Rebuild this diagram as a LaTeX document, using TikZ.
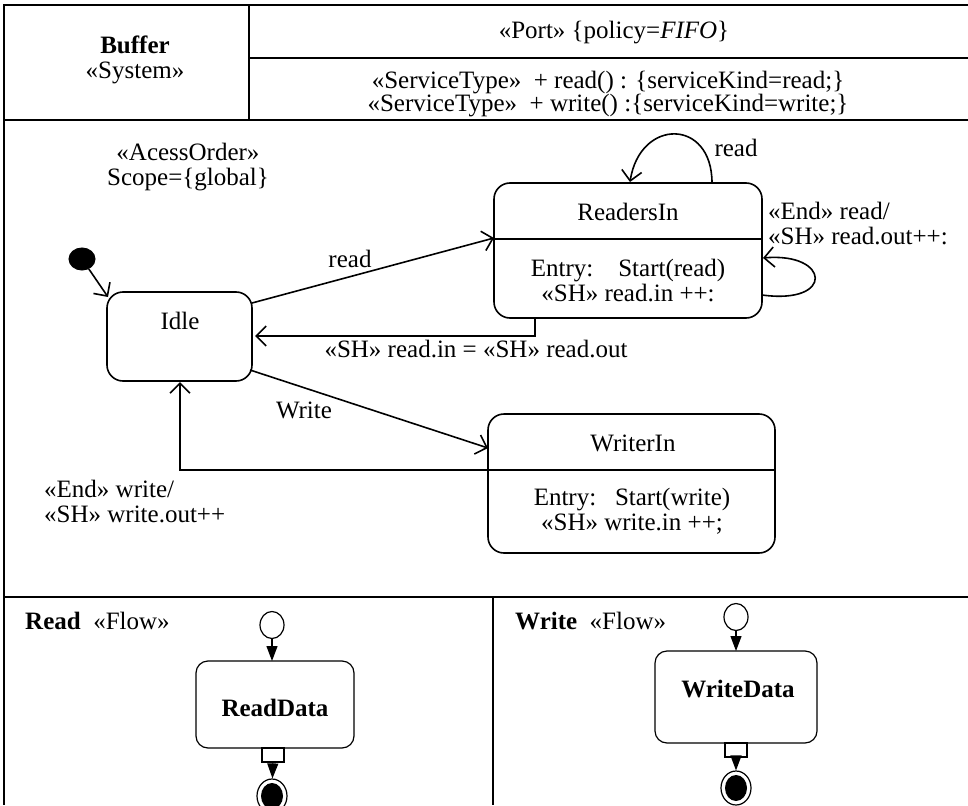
\documentclass[tikz,border=0pt]{standalone}
\usepackage{fontspec}
\setmainfont{Liberation Serif}
\usetikzlibrary{arrows.meta,shapes.geometric}
\begin{document}
\begin{tikzpicture}[x=1pt,y=-1pt,
  font=\fontsize{25}{25}\selectfont,
  frame/.style={line width=1.6pt},
  stbox/.style={draw,line width=1.6pt,rounded corners=16pt},
  actbox/.style={draw,line width=1.2pt,rounded corners=12pt},
  tr/.style={line width=1.6pt,-{Straight Barb[length=10pt,width=20pt,line width=1.6pt]}},
  fl/.style={line width=1.2pt,-{Triangle[length=15pt,width=11pt]}},
  lbl/.style={inner sep=0pt,align=center},
  lbll/.style={inner sep=0pt,align=left,anchor=west},
  opencirc/.style={draw,ellipse,minimum width=24pt,minimum height=27pt,inner sep=0pt,line width=1.2pt},
  finring/.style={draw,ellipse,minimum width=30pt,minimum height=34pt,inner sep=0pt,line width=1.2pt},
  findot/.style={fill=black,ellipse,minimum width=22pt,minimum height=26pt,inner sep=0pt},
  pinbox/.style={draw,line width=1.2pt,minimum width=22pt,minimum height=14pt,inner sep=0pt}]
\useasboundingbox (0,0) rectangle (968,805);
% frame
\draw[frame] (968,5) -- (4,5) -- (4,805);
\draw[frame] (4,120) -- (968,120);
\draw[frame] (249,5) -- (249,120);
\draw[frame] (249,58) -- (968,58);
\draw[frame] (4,597) -- (968,597);
\draw[line width=1.2pt] (493,597) -- (493,805);
% header texts
\node[lbl] (buf) at (135,60) {\textbf{Buffer}\\«System»};
\node[lbl] (port) at (614,33) {«Port» \{policy=\textit{FIFO}\}};
\node[lbl,font=\fontsize{25}{19}\selectfont] (svc) at (608,94) {«ServiceType»\ \ + read() : \{serviceKind=read;\}\\«ServiceType»\ \ + write() :\{serviceKind=write;\}};
% access order
\node[lbl] (acc) at (188,167) {«AcessOrder»\\Scope=\{global\}};
% initial
\node[draw,fill=black,ellipse,minimum width=26pt,minimum height=22pt,inner sep=0pt,line width=1pt] (init) at (82,259) {};
% Idle
\draw[stbox] (107,292) rectangle (252,381);
\node[lbl] (idlet) at (180,321) {Idle};
% ReadersIn
\draw[stbox] (494,183) rectangle (762,318);
\draw[frame] (494,239) -- (762,239);
\node[lbl] (rdt) at (628,212) {ReadersIn};
\node[lbl] (rde) at (628,281) {Entry:\ \ \ \ Start(read)\\«SH» read.in ++:};
% WriterIn
\draw[stbox] (488,414) rectangle (775,553);
\draw[frame] (488,470) -- (775,470);
\node[lbl] (wrt) at (633,443) {WriterIn};
\node[lbl] (wre) at (632,511) {Entry:\ \ \ Start(write)\\«SH» write.in ++;};
% named anchors
\coordinate (idleR1) at (252,303);
\coordinate (rdL) at (494,238);
\coordinate (rdB) at (535,318);
\coordinate (rdBc) at (535,336);
\coordinate (idleR2) at (255,336);
\coordinate (idleR3) at (250,370);
\coordinate (wrL) at (488,448);
\coordinate (wrL2) at (488,470);
\coordinate (wrC) at (180,470);
\coordinate (idleB) at (180,382);
\coordinate (idleTL) at (108,297);
\coordinate (rdT1) at (712,183);
\coordinate (rdT2) at (630,182);
\coordinate (rdR1) at (762,295);
\coordinate (rdR2) at (763,258);
% transitions
\draw[tr] (init) -- (idleTL);
\draw[tr] (idleR1) -- (rdL);
\node[lbl] (rl1) at (350,259) {read};
\draw[tr] (rdB) -- (rdBc) -- (idleR2);
\node[lbl] (rb) at (476,349) {«SH» read.in = «SH» read.out};
\draw[tr] (idleR3) -- (wrL);
\node[lbl] (wl) at (304,410) {Write};
\draw[tr] (wrL2) -- (wrC) -- (idleB);
\node[lbll] (we) at (44,501) {«End» write/\\«SH» write.out++};
\draw[tr] (rdT1) .. controls (712,118) and (640,118) .. (rdT2);
\node[lbl] (rl) at (736,148) {read};
\draw[tr] (rdR1) .. controls (835,305) and (830,252) .. (rdR2);
\node[lbll] (re) at (768,224) {«End» read/\\«SH» read.out++:};
% Read flow
\node[lbll] (rh) at (25,621) {\textbf{Read}\ \ «Flow»};
\node[opencirc] (rs) at (272,625) {};
\draw[actbox] (196,661) rectangle (354,748);
\node[lbl] (rdd) at (275,708) {\textbf{ReadData}};
\node[pinbox] (rpin) at (273,755) {};
\node[finring] (rf) at (272,796) {};
\node[findot] (rfi) at (272,796) {};
\coordinate (rddT) at (272,661);
\draw[fl] (rs) -- (rddT);
\draw[fl] (rpin) -- (rf);
% Write flow
\node[lbll] (wh) at (515,621) {\textbf{Write}\ \ «Flow»};
\node[opencirc] (ws) at (736,617) {};
\draw[actbox] (655,651) rectangle (817,743);
\node[lbl] (wdd) at (738,689) {\textbf{WriteData}};
\node[pinbox] (wpin) at (736,750) {};
\node[finring] (wf) at (736,788) {};
\node[findot] (wfi) at (736,788) {};
\coordinate (wddT) at (736,651);
\draw[fl] (ws) -- (wddT);
\draw[fl] (wpin) -- (wf);
\end{tikzpicture}
\end{document}
